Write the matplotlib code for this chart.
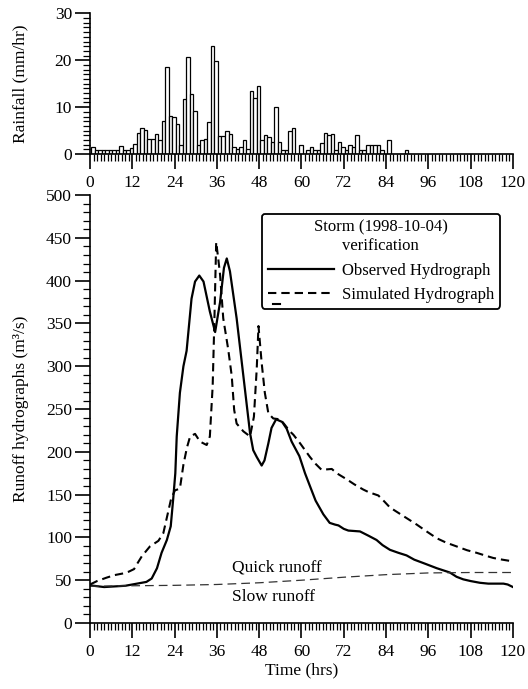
import numpy as np
import matplotlib
matplotlib.use("Agg")
import matplotlib.pyplot as plt
from matplotlib.ticker import MultipleLocator

plt.rcParams['font.family'] = ['Liberation Serif', 'DejaVu Serif']
plt.rcParams['font.size'] = 12.5

# hourly rainfall (mm/hr), hour 0..89
rain = [1.5, 0.9, 0.9, 0.9, 0.9, 0.9, 0.9, 0.9, 1.7, 0.9,
        0.9, 1.3, 2.2, 4.4, 5.6, 5.2, 3.3, 3.3, 4.3, 2.9,
        7.0, 18.5, 8.2, 7.9, 6.3, 2.0, 11.7, 20.7, 12.9, 9.1,
        2.0, 3.0, 3.3, 6.9, 23.0, 19.9, 3.9, 3.9, 5.0, 4.3,
        1.5, 1.0, 1.5, 3.0, 1.0, 13.5, 12.0, 14.5, 3.0, 4.0,
        3.6, 2.6, 10.0, 2.6, 0.9, 0.9, 4.9, 5.6, 0.0, 2.0,
        0.0, 0.9, 1.5, 0.9, 0.9, 2.4, 4.5, 4.0, 4.3, 0.9,
        2.6, 1.5, 0.9, 2.0, 1.5, 4.0, 0.9, 0.9, 2.0, 2.0,
        2.0, 2.0, 0.9, 0.0, 3.0, 0.0, 0.0, 0.0, 0.0, 0.9]
rain_hours = np.arange(len(rain))

obs_hours = [0, 2, 4, 6, 8, 10, 12, 14, 16, 17.5, 19, 20.3, 21.8, 22.9, 23.6, 24.2,
             24.6, 25.5, 26.5, 27.4, 28.8, 29.8, 31, 32.2, 34, 35.5, 36.9, 38, 38.8,
             39.7, 41.6, 43.5, 45.4, 46.3, 47.3, 48.7, 49.5, 50.6, 51.5, 52.8, 54.5,
             55.8, 57.2, 59.4, 61, 62.4, 64, 66.2, 68, 69.5, 70.5, 72, 73.3, 76.6, 79,
             81.3, 83, 85.1, 87.5, 89.8, 92, 94.6, 98.4, 102.1, 104, 105.9, 108, 110.6,
             113, 115.4, 117.3, 118.5, 120]
obs_flow = [44, 43, 42, 42.5, 43, 43.5, 45, 46.5, 48, 52, 64, 82, 97, 113, 145, 175,
            218, 269, 300, 318, 379, 399, 406, 399, 364, 340, 375, 415, 426,
            411, 356, 289, 222, 202, 194, 184, 190, 210, 228, 238, 235,
            227, 212, 195, 175, 160, 143, 127, 117, 115, 114, 110, 108, 107, 102,
            97, 91, 85.5, 82, 79, 74, 70, 64, 59, 54, 51, 49, 47,
            46, 46, 46, 45, 42]

sim_hours = [0, 2, 4.7, 7, 9.5, 11, 12.5, 13.5, 14.7, 17, 19.4, 20.8, 21.9, 23, 24.1,
             25.5, 26.5, 27.5, 28.4, 29.8, 31.2, 33.1, 34, 34.8, 35.3, 35.8, 36.4,
             36.9, 37.8, 39.2, 40.2, 40.9, 41.6, 43.5, 45.4, 46.5, 47.3, 47.8, 48.7,
             49.6, 50.6, 52, 53.9, 55, 56.7, 57.7, 59.6, 62.4, 64, 65.7, 68.6, 70,
             72.8, 75, 77.5, 79, 81.8, 83.5, 85.1, 88.9, 92.7, 95.5, 98.4, 101, 104,
             107, 109.7, 112, 114.4, 117, 120]
sim_flow = [45, 49, 53, 56, 58, 60, 63, 70, 78, 89.5, 96, 105, 125, 145, 155,
            157, 185, 205, 218, 221, 212, 208, 218, 277, 356, 445, 425,
            407, 356, 320, 289, 249, 233, 224, 218, 241, 297, 347, 304,
            269, 245, 239, 238, 233, 224, 220, 210, 194, 186, 179, 180, 175,
            168, 162, 156, 153, 149, 142, 135, 125, 115, 107, 99, 94, 89.5,
            85, 82, 79, 76, 74, 72]

base_hours = [0, 12, 24, 36, 48, 60, 72, 84, 96, 108, 120]
base_flow = [43, 43.5, 44, 45, 47, 50, 53.5, 56.5, 58.5, 59, 59]

fig = plt.figure(figsize=(5.28, 6.89), dpi=100)
ax1 = fig.add_axes([0.1705, 0.7765, 0.801, 0.204])
ax2 = fig.add_axes([0.1705, 0.0958, 0.801, 0.621])

ax1.bar(rain_hours + 0.3, rain, width=1.0, align='edge', color='white',
        edgecolor='black', linewidth=0.9)
ax1.set_xlim(0, 120)
ax1.set_ylim(0, 30)
ax1.set_ylabel('Rainfall (mm/hr)')
ax1.yaxis.set_major_locator(MultipleLocator(10))
ax1.yaxis.set_minor_locator(MultipleLocator(1))

ax2.plot(obs_hours, obs_flow, color='black', linewidth=1.6, label='Observed Hydrograph')
ax2.plot(sim_hours, sim_flow, color='black', linewidth=1.5, dashes=(4, 2.4),
         label='Simulated Hydrograph')
ax2.plot(base_hours, base_flow, color='#333333', linewidth=0.9, dashes=(7, 4))
ax2.text(40.2, 65, 'Quick runoff', va='center', ha='left')
ax2.text(40.2, 30, 'Slow runoff', va='center', ha='left')
ax2.set_xlim(0, 120)
ax2.set_ylim(0, 500)
ax2.set_xlabel('Time (hrs)', labelpad=2)
ax2.set_ylabel('Runoff hydrographs (m³/s)')
ax2.yaxis.set_major_locator(MultipleLocator(50))
ax2.yaxis.set_minor_locator(MultipleLocator(10))

for ax in (ax1, ax2):
    ax.spines['top'].set_visible(False)
    ax.spines['right'].set_visible(False)
    ax.spines['left'].set_linewidth(1.2)
    ax.spines['bottom'].set_linewidth(1.2)
    ax.xaxis.set_major_locator(MultipleLocator(12))
    ax.xaxis.set_minor_locator(MultipleLocator(1))
    ax.tick_params(which='major', direction='out', length=10.5, width=1.2, labelsize=12.5)
    ax.tick_params(which='minor', direction='out', length=5, width=0.9)
    ax.tick_params(axis='x', which='major', pad=4.5)
    ax.tick_params(axis='y', which='major', pad=2.5)

leg = ax2.legend(loc='upper right', bbox_to_anchor=(0.969, 0.956), borderaxespad=0,
                 title='Storm (1998-10-04)\nverification',
                 fancybox=True, framealpha=1, edgecolor='black', handlelength=4.0,
                 borderpad=0.35, handletextpad=0.45, fontsize=12, title_fontsize=12)
leg.get_title().set_multialignment('center')
leg.get_frame().set_linewidth(1.3)

ax1.yaxis.set_label_coords(-0.145, 0.5)
ax2.yaxis.set_label_coords(-0.145, 0.5)

# small stray mark inside the lower left corner of the legend box, as in the original
fig.canvas.draw()
box = leg.get_window_extent()
fx0, fy0 = fig.transFigure.inverted().transform((box.x0 + 11, box.y0 + 4.5))
fx1, _ = fig.transFigure.inverted().transform((box.x0 + 18, box.y0 + 4.5))
fig.add_artist(plt.Line2D([fx0, fx1], [fy0, fy0], color='black', linewidth=1.5,
                          transform=fig.transFigure, zorder=10))

fig.savefig('out.png', dpi=100)
